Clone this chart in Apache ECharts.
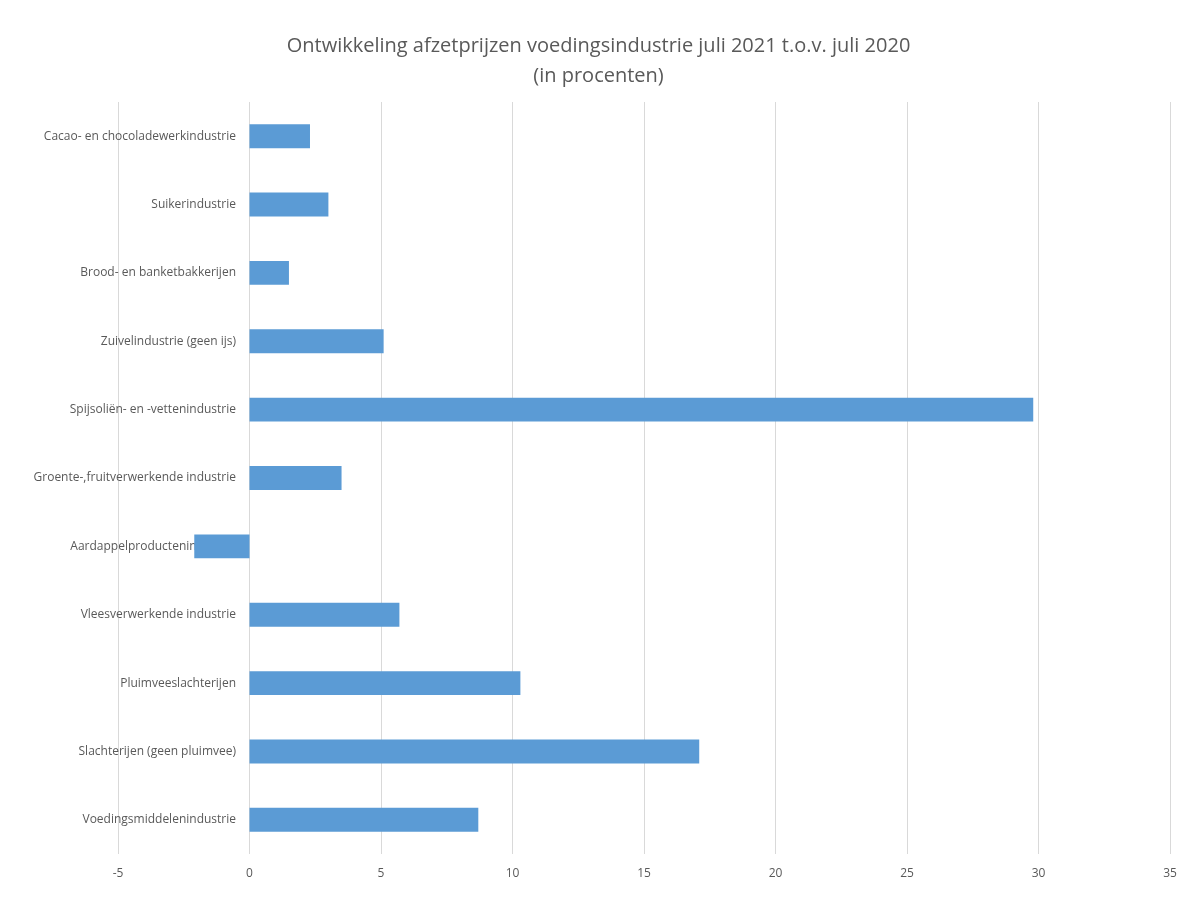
<!DOCTYPE html>
<html><head><meta charset="utf-8">
<script src="https://cdn.jsdelivr.net/npm/echarts@6/dist/echarts.min.js"></script>
<style>html,body{margin:0;padding:0;background:#fff}#c{width:1197px;height:900px}</style>
</head><body><div id="c"></div>
<script>
const categories = ["Cacao- en chocoladewerkindustrie","Suikerindustrie","Brood- en banketbakkerijen","Zuivelindustrie (geen ijs)","Spijsoliën- en -vettenindustrie","Groente-,fruitverwerkende industrie","Aardappelproductenindustrie","Vleesverwerkende industrie","Pluimveeslachterijen","Slachterijen (geen pluimvee)","Voedingsmiddelenindustrie"];
const values = [2.3,3.0,1.5,5.1,29.8,3.5,-2.1,5.7,10.3,17.1,8.7];
const chart = echarts.init(document.getElementById('c'));
chart.setOption({
  title:{text:"Ontwikkeling afzetprijzen voedingsindustrie juli 2021 t.o.v. juli 2020\n(in procenten)",left:'center',top:26,
    textStyle:{fontFamily:'Open Sans',fontSize:20,fontWeight:'normal',color:'#595959',lineHeight:30}},
  grid:{left:118,right:27,top:102,bottom:46},
  xAxis:{type:'value',min:-5,max:35,interval:5,
    axisLabel:{color:'#595959',fontSize:12,fontFamily:'Open Sans',margin:14},
    axisLine:{show:false},axisTick:{show:false},
    splitLine:{lineStyle:{color:'#d9d9d9'}}},
  yAxis:{type:'category',data:categories,inverse:true,offset:-132,
    axisLabel:{color:'#595959',fontSize:12,fontFamily:'Open Sans',margin:14},
    axisLine:{show:false},axisTick:{show:false}},
  series:[{type:'bar',data:values,barWidth:'35%',itemStyle:{color:'#5B9BD5'}}]
});
</script></body></html>
